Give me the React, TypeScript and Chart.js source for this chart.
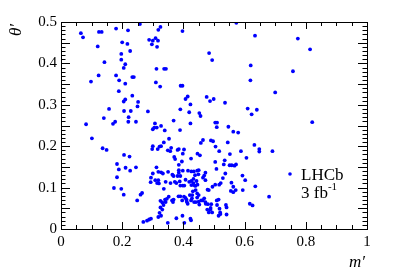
import React, { useEffect, useRef } from "react";
import { Chart, registerables } from "chart.js";

Chart.register(...registerables);

const mPrime: number[] = [
  0.065, 0.072, 0.124, 0.133, 0.12, 0.18, 0.219, 0.2, 0.217, 0.226, 0.197, 0.197, 0.21, 0.205, 0.142, 0.123, 0.098, 0.18, 0.19, 0.21,
  0.233, 0.238, 0.189, 0.233, 0.21, 0.205, 0.252, 0.25, 0.157, 0.206, 0.228, 0.14, 0.221, 0.22, 0.245, 0.177, 0.17, 0.082, 0.101, 0.136,
  0.149, 0.183, 0.189, 0.183, 0.206, 0.224, 0.211, 0.226, 0.245, 0.173, 0.197, 0.205, 0.249, 0.26, 0.265,
  0.258, 0.288, 0.3, 0.309, 0.317, 0.297, 0.314, 0.318, 0.325, 0.397, 0.312, 0.337, 0.343, 0.31, 0.324, 0.391, 0.397, 0.284, 0.307, 0.305,
  0.3, 0.313, 0.327, 0.339, 0.389, 0.39, 0.368, 0.407, 0.414, 0.423, 0.419, 0.423, 0.353, 0.336, 0.3, 0.298, 0.322, 0.327, 0.316, 0.349,
  0.357, 0.36, 0.381, 0.385, 0.402, 0.398, 0.37, 0.373, 0.425, 0.395, 0.385, 0.312, 0.318, 0.3, 0.327, 0.333, 0.35, 0.364, 0.368, 0.385,
  0.385, 0.381, 0.39, 0.294, 0.308, 0.318, 0.314, 0.32, 0.293, 0.342, 0.358, 0.372, 0.377, 0.388, 0.39, 0.398, 0.403, 0.407, 0.419, 0.426,
  0.433, 0.433, 0.443, 0.449, 0.445, 0.415, 0.426, 0.398, 0.434, 0.438, 0.45, 0.468, 0.472, 0.464, 0.472, 0.426, 0.434, 0.439, 0.446, 0.479,
  0.483, 0.495, 0.504, 0.517, 0.522, 0.529, 0.537, 0.557, 0.563, 0.555, 0.563, 0.571, 0.594, 0.593, 0.602, 0.508, 0.504, 0.532, 0.535, 0.552,
  0.551, 0.558, 0.567, 0.572, 0.588, 0.606, 0.632, 0.648, 0.648, 0.691, 0.635, 0.68, 0.617, 0.626,
  0.336, 0.352, 0.34, 0.325, 0.331, 0.342, 0.346, 0.363, 0.366, 0.368, 0.384, 0.39, 0.396, 0.402, 0.407, 0.41, 0.411, 0.414, 0.421, 0.425,
  0.429, 0.428, 0.431, 0.44, 0.435, 0.441, 0.445, 0.445, 0.45, 0.45, 0.452, 0.458, 0.463, 0.468, 0.472, 0.473, 0.48, 0.478, 0.483, 0.488,
  0.489, 0.491, 0.494, 0.509, 0.515, 0.51, 0.518, 0.52, 0.515, 0.521, 0.539, 0.541, 0.541, 0.325, 0.331, 0.335, 0.318, 0.322, 0.327, 0.269,
  0.281, 0.288, 0.294, 0.349, 0.377, 0.397, 0.403, 0.423, 0.425,
  0.573, 0.634, 0.484, 0.494, 0.62, 0.619, 0.61, 0.623, 0.64, 0.774, 0.814, 0.758, 0.7, 0.821, 0.476, 0.487, 0.499, 0.536, 0.452, 0.456,
  0.504, 0.51, 0.509, 0.547, 0.563, 0.579, 0.464, 0.457, 0.49, 0.497, 0.545, 0.505, 0.517, 0.446, 0.454,
];

const thetaPrime: number[] = [
  0.473, 0.463, 0.476, 0.476, 0.441, 0.484, 0.48, 0.451, 0.447, 0.43, 0.423, 0.409, 0.398, 0.389, 0.403, 0.371, 0.356, 0.371, 0.359, 0.351,
  0.367, 0.367, 0.333, 0.322, 0.313, 0.308, 0.307, 0.296, 0.29, 0.285, 0.285, 0.268, 0.27, 0.259, 0.259, 0.259, 0.254, 0.253, 0.219, 0.195,
  0.191, 0.157, 0.144, 0.125, 0.179, 0.175, 0.148, 0.141, 0.149, 0.099, 0.097, 0.083, 0.069, 0.083, 0.087,
  0.495, 0.457, 0.455, 0.461, 0.455, 0.446, 0.44, 0.481, 0.488, 0.478, 0.387, 0.387, 0.387, 0.354, 0.344, 0.346, 0.346, 0.284, 0.255, 0.245,
  0.241, 0.245, 0.249, 0.238, 0.239, 0.289, 0.262, 0.314, 0.32, 0.301, 0.282, 0.255, 0.218, 0.209, 0.2, 0.193, 0.199, 0.2, 0.193, 0.19,
  0.188, 0.196, 0.191, 0.193, 0.192, 0.182, 0.174, 0.169, 0.17, 0.163, 0.155, 0.149, 0.138, 0.134, 0.137, 0.134, 0.138, 0.131, 0.128, 0.142,
  0.136, 0.128, 0.128, 0.124, 0.118, 0.118, 0.111, 0.11, 0.113, 0.114, 0.111, 0.114, 0.111, 0.115, 0.105, 0.105, 0.105, 0.119, 0.114, 0.116,
  0.121, 0.111, 0.116, 0.132, 0.141, 0.141, 0.139, 0.141, 0.139, 0.13, 0.142, 0.129, 0.136, 0.124, 0.118, 0.106, 0.106, 0.104, 0.107, 0.095,
  0.094, 0.102, 0.107, 0.107, 0.111, 0.123, 0.134, 0.112, 0.102, 0.092, 0.089, 0.094, 0.094, 0.129, 0.118, 0.145, 0.162, 0.156, 0.166, 0.181,
  0.154, 0.154, 0.153, 0.156, 0.188, 0.172, 0.203, 0.193, 0.187, 0.188, 0.103, 0.078, 0.061, 0.057,
  0.097, 0.078, 0.071, 0.068, 0.064, 0.065, 0.073, 0.069, 0.065, 0.071, 0.079, 0.079, 0.069, 0.078, 0.075, 0.071, 0.066, 0.061, 0.082, 0.069,
  0.082, 0.074, 0.091, 0.094, 0.065, 0.065, 0.086, 0.076, 0.082, 0.066, 0.059, 0.069, 0.069, 0.074, 0.065, 0.061, 0.06, 0.047, 0.04, 0.047,
  0.051, 0.06, 0.04, 0.069, 0.071, 0.058, 0.049, 0.04, 0.032, 0.036, 0.058, 0.052, 0.035, 0.052, 0.047, 0.058, 0.029, 0.039, 0.032, 0.017,
  0.02, 0.023, 0.025, 0.015, 0.026, 0.032, 0.015, 0.025, 0.021,
  0.498, 0.467, 0.425, 0.408, 0.395, 0.359, 0.291, 0.277, 0.288, 0.46, 0.434, 0.381, 0.33, 0.258, 0.319, 0.309, 0.314, 0.305, 0.28, 0.273,
  0.257, 0.257, 0.246, 0.247, 0.235, 0.233, 0.215, 0.208, 0.214, 0.212, 0.209, 0.199, 0.188, 0.182, 0.178,
];

const xTickLabels = ["0", "0.2", "0.4", "0.6", "0.8", "1"];
const yTickLabels = ["0", "0.05", "0.1", "0.15", "0.2", "0.25", "0.3", "0.35", "0.4", "0.45", "0.5"];
const xTitle = "m\u2032";
const yTitle = "\u03B8\u2032";
const legendLines = ["LHCb", "3 fb"];
const legendSup = "-1";

const SERIF = "'Liberation Serif', 'DejaVu Serif', serif";

const framePlugin = {
  id: "rootFrame",
  afterDatasetsDraw(chart: any) {
    const { ctx, chartArea } = chart;
    const { left, right, top, bottom } = chartArea;
    const xs = chart.scales.x;
    const ys = chart.scales.y;
    ctx.save();
    ctx.strokeStyle = "#000";
    ctx.lineWidth = 1;
    ctx.beginPath();
    for (let i = 0; i <= 20; i++) {
      const v = i * 0.05;
      const px = Math.round(xs.getPixelForValue(v)) + 0.5;
      const major = i % 4 === 0;
      const len = major ? 7 : 4;
      ctx.moveTo(px, bottom);
      ctx.lineTo(px, bottom - len);
      ctx.moveTo(px, top);
      ctx.lineTo(px, top + len);
    }
    for (let i = 0; i <= 50; i++) {
      const v = i * 0.01;
      const py = Math.round(ys.getPixelForValue(v)) + 0.5;
      const major = i % 5 === 0;
      const len = major ? 9 : 4.5;
      ctx.moveTo(left, py);
      ctx.lineTo(left + len, py);
      ctx.moveTo(right, py);
      ctx.lineTo(right - len, py);
    }
    ctx.stroke();
    ctx.strokeRect(Math.round(left) + 0.5, Math.round(top) + 0.5, Math.round(right - left), Math.round(bottom - top));

    ctx.fillStyle = "#000";
    ctx.font = `italic 17px ${SERIF}`;
    ctx.textAlign = "right";
    ctx.textBaseline = "alphabetic";
    ctx.fillText(xTitle, right - 2, 267);
    ctx.save();
    ctx.translate(21, top + 2);
    ctx.rotate(-Math.PI / 2);
    ctx.textAlign = "right";
    ctx.fillText(yTitle, 0, 0);
    ctx.restore();

    ctx.fillStyle = "rgb(0,0,255)";
    ctx.beginPath();
    ctx.arc(290, 174, 1.8, 0, Math.PI * 2);
    ctx.fill();
    ctx.fillStyle = "#000";
    ctx.textAlign = "left";
    ctx.font = `17px ${SERIF}`;
    ctx.fillText(legendLines[0], 301, 180);
    ctx.fillText(legendLines[1], 301, 198);
    const w = ctx.measureText(legendLines[1]).width;
    ctx.font = `11px ${SERIF}`;
    ctx.fillText(legendSup, 301 + w, 190);
    ctx.restore();
  },
};

export default function App() {
  const ref = useRef<HTMLCanvasElement | null>(null);
  useEffect(() => {
    document.body.style.margin = "0";
    const canvas = ref.current;
    if (!canvas) return;
    const points = mPrime.map((m, i) => ({ x: m, y: thetaPrime[i] }));
    const chart = new Chart(canvas, {
      type: "scatter",
      data: {
        datasets: [
          {
            data: points,
            backgroundColor: "rgb(0,0,255)",
            borderWidth: 0,
            pointRadius: 1.9,
          },
        ],
      },
      options: {
        animation: false,
        responsive: false,
        maintainAspectRatio: false,
        layout: { padding: { top: 22, right: 40, left: 0, bottom: 0 } },
        plugins: { legend: { display: false }, tooltip: { enabled: false } },
        scales: {
          x: {
            type: "linear",
            min: 0,
            max: 1,
            grid: { display: false, drawTicks: false },
            border: { display: false },
            afterFit: (s: any) => {
              s.height = 43;
            },
            afterBuildTicks: (s: any) => {
              s.ticks = xTickLabels.map((t) => ({ value: parseFloat(t) }));
            },
            ticks: {
              padding: 4,
              color: "#000",
              font: { family: SERIF, size: 15 },
              maxRotation: 0,
              callback: (v: any, i: number) => xTickLabels[i] ?? "",
            },
          },
          y: {
            type: "linear",
            min: 0,
            max: 0.5,
            grid: { display: false, drawTicks: false },
            border: { display: false },
            afterFit: (s: any) => {
              s.width = 61;
            },
            afterBuildTicks: (s: any) => {
              s.ticks = yTickLabels.map((t) => ({ value: parseFloat(t) }));
            },
            ticks: {
              padding: 4,
              color: "#000",
              font: { family: SERIF, size: 15 },
              callback: (v: any, i: number) => yTickLabels[i] ?? "",
            },
          },
        },
      },
      plugins: [framePlugin],
    });
    return () => chart.destroy();
  }, []);
  return (
    <div style={{ width: 407, height: 272, position: "relative" }}>
      <canvas ref={ref} width={407} height={272} style={{ width: 407, height: 272, display: "block" }} />
    </div>
  );
}
